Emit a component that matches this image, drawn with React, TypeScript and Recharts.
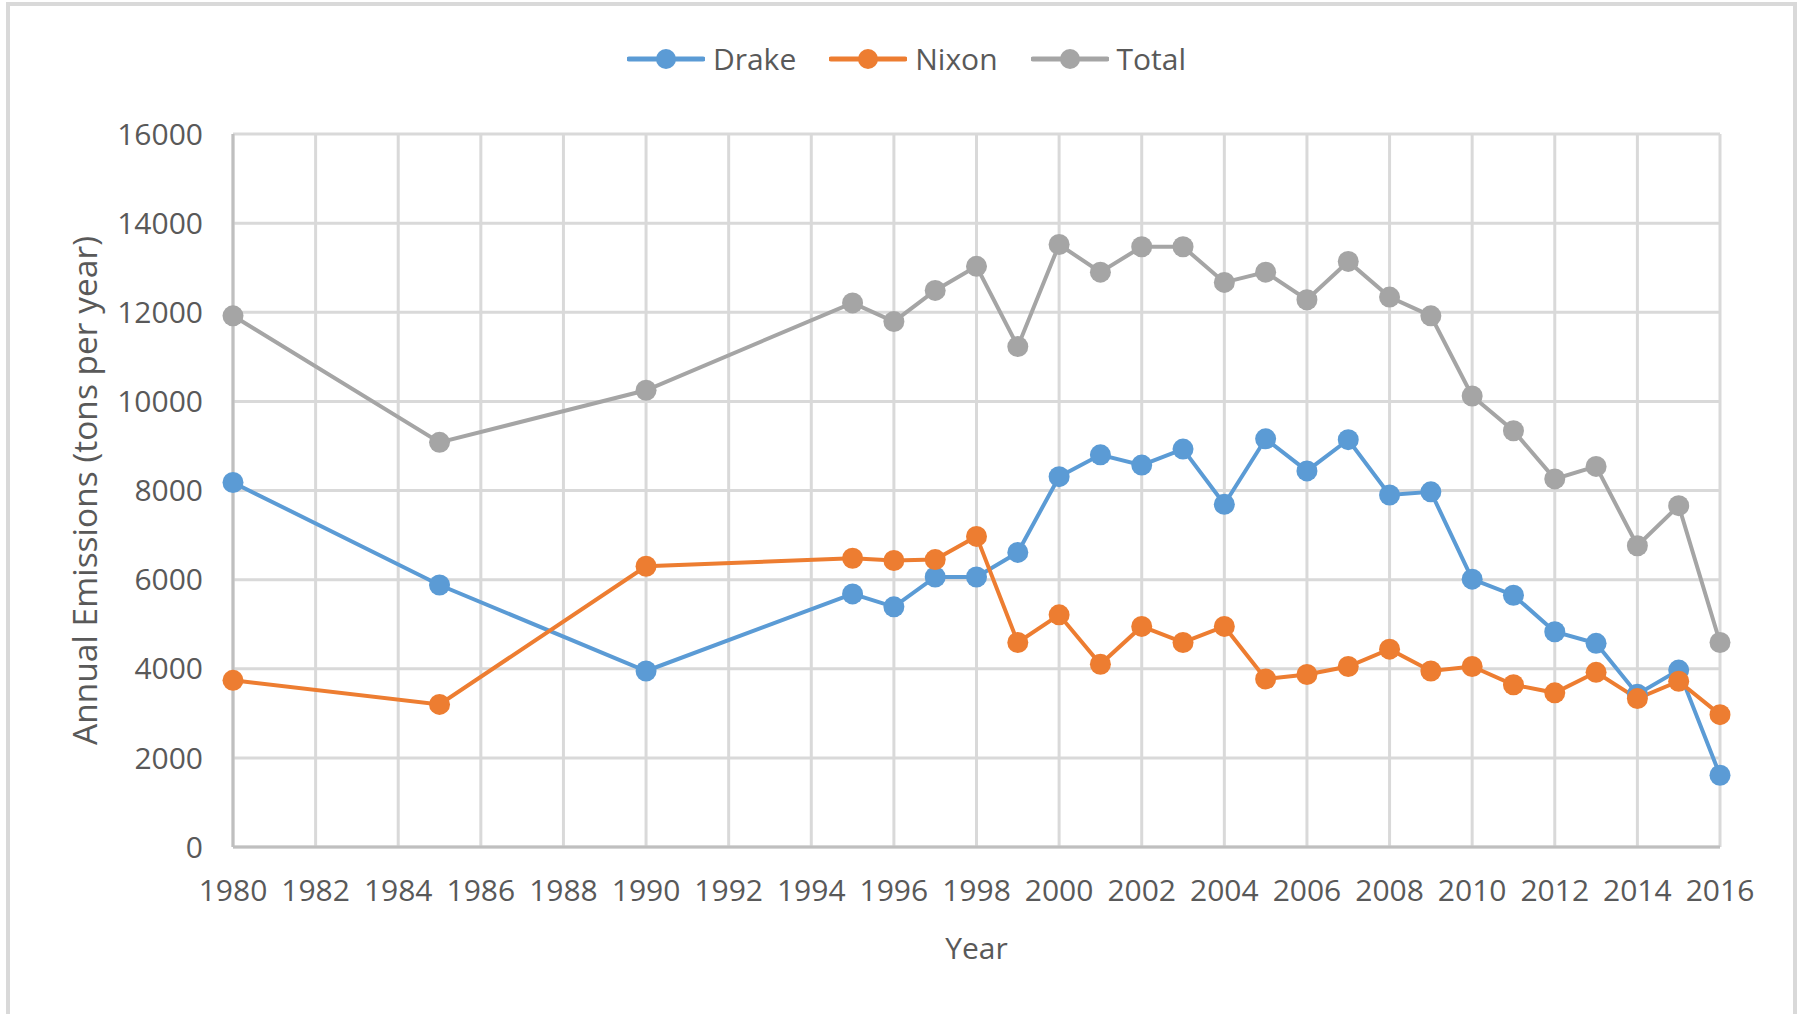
import {
  LineChart,
  Line,
  XAxis,
  YAxis,
  CartesianGrid,
  Legend,
} from "recharts";

// Years with a reading (the chart skips most of the 1980s and early 90s)
const years = [
  1980, 1985, 1990, 1995, 1996, 1997, 1998, 1999, 2000, 2001, 2002, 2003, 2004,
  2005, 2006, 2007, 2008, 2009, 2010, 2011, 2012, 2013, 2014, 2015, 2016,
];

const drake = [
  8180, 5880, 3950, 5680, 5390, 6060, 6060, 6610, 8310, 8800, 8570, 8930, 7690,
  9160, 8440, 9140, 7900, 7970, 6010, 5650, 4830, 4570, 3430, 3970, 1610,
];

const nixon = [
  3740, 3200, 6300, 6480, 6430, 6450, 6970, 4590, 5210, 4100, 4950, 4590, 4950,
  3770, 3870, 4050, 4440, 3950, 4050, 3640, 3460, 3920, 3330, 3720, 2970,
];

const total = [
  11920, 9080, 10250, 12210, 11790, 12490, 13030, 11230, 13520, 12900, 13470,
  13470, 12670, 12900, 12280, 13140, 12340, 11920, 10120, 9340, 8260, 8540,
  6760, 7660, 4590,
];

const yearTicks = [
  1980, 1982, 1984, 1986, 1988, 1990, 1992, 1994, 1996, 1998, 2000, 2002, 2004,
  2006, 2008, 2010, 2012, 2014, 2016,
];

const emissionTicks = [0, 2000, 4000, 6000, 8000, 10000, 12000, 14000, 16000];

const series = [
  { key: "drake", name: "Drake", color: "#5B9BD5" },
  { key: "nixon", name: "Nixon", color: "#ED7D31" },
  { key: "total", name: "Total", color: "#A5A5A5" },
];

const chartData = years.map((year, i) => ({
  year,
  drake: drake[i],
  nixon: nixon[i],
  total: total[i],
}));

const FONT = "'Open Sans', sans-serif";
const TEXT = "#595959";

// Excel-style legend: line with a filled marker in the middle
const LegendRow = () => (
  <div
    style={{
      display: "flex",
      justifyContent: "center",
      alignItems: "center",
      fontFamily: FONT,
      fontSize: 30,
      color: TEXT,
      marginLeft: 46,
    }}
  >
    {series.map((s) => (
      <div key={s.key} style={{ display: "flex", alignItems: "center", marginRight: 33 }}>
        <svg width={78} height={24} style={{ marginRight: 8 }}>
          <line x1={2} y1={12} x2={76} y2={12} stroke={s.color} strokeWidth={5} strokeLinecap="round" />
          <circle cx={39} cy={12} r={10} fill={s.color} />
        </svg>
        <span>{s.name}</span>
      </div>
    ))}
  </div>
);

const App = () => {
  return (
    <div
      style={{
        position: "absolute",
        left: 0,
        top: 0,
        width: 1800,
        height: 1014,
        background: "#fff",
        overflow: "hidden",
      }}
    >
      <div
        style={{
          position: "absolute",
          left: 6,
          top: 2,
          width: 1791,
          height: 1100,
          border: "4px solid #d9d9d9",
          boxSizing: "border-box",
        }}
      />
      <div style={{ position: "absolute", left: 0, top: 0 }}>
        <LineChart
          width={1800}
          height={1014}
          data={chartData}
          margin={{ top: 134, right: 80, bottom: 67, left: 83 }}
        >
          <CartesianGrid stroke="#d9d9d9" strokeWidth={3} verticalValues={yearTicks} />
          <XAxis
            dataKey="year"
            type="number"
            domain={[1980, 2016]}
            ticks={yearTicks}
            interval={0}
            height={100}
            axisLine={{ stroke: "#bfbfbf", strokeWidth: 3 }}
            tickLine={false}
            tickMargin={27}
            tick={{ fill: TEXT, fontSize: 30, fontFamily: FONT }}
            label={(props: any) => {
              const vb = props.viewBox;
              return (
                <text
                  x={vb.x + vb.width / 2}
                  y={947}
                  textAnchor="middle"
                  dominantBaseline="central"
                  fill={TEXT}
                  fontSize={30}
                  fontFamily={FONT}
                >
                  Year
                </text>
              );
            }}
          />
          <YAxis
            type="number"
            domain={[0, 16000]}
            ticks={emissionTicks}
            interval={0}
            width={150}
            axisLine={{ stroke: "#bfbfbf", strokeWidth: 3 }}
            tickLine={false}
            tickMargin={24}
            tick={{ fill: TEXT, fontSize: 30, fontFamily: FONT }}
            label={(props: any) => {
              const vb = props.viewBox;
              const cx = 84;
              const cy = vb.y + vb.height / 2;
              return (
                <text
                  x={cx}
                  y={cy}
                  transform={`rotate(-90, ${cx}, ${cy})`}
                  textAnchor="middle"
                  dominantBaseline="central"
                  fill={TEXT}
                  fontSize={33.5}
                  fontFamily={FONT}
                >
                  Annual Emissions (tons per year)
                </text>
              );
            }}
          />
          <Legend
            verticalAlign="middle"
            align="center"
            wrapperStyle={{ top: 38, left: 0, width: 1800 }}
            content={() => <LegendRow />}
          />
          {series.map((s) => (
            <Line
              key={s.key}
              dataKey={s.key}
              name={s.name}
              type="linear"
              stroke={s.color}
              strokeWidth={4}
              dot={{ r: 10.5, fill: s.color, stroke: s.color, strokeWidth: 0 }}
              activeDot={false}
              isAnimationActive={false}
            />
          ))}
        </LineChart>
      </div>
    </div>
  );
};

export default App;
